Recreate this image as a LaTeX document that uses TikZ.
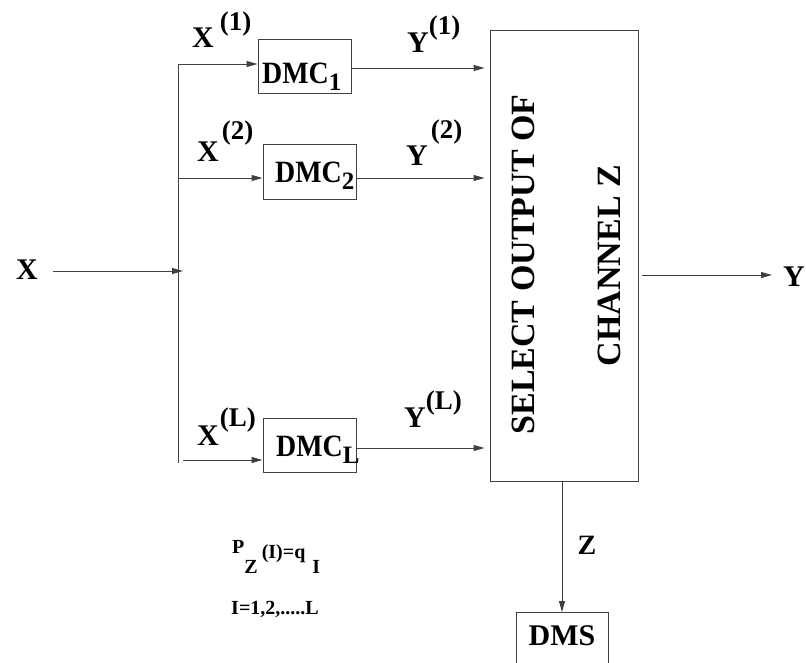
\documentclass[tikz,border=0pt]{standalone}
\usepackage{fontspec}
\setmainfont{Liberation Serif}
\usetikzlibrary{arrows.meta}
\newcommand{\mysup}[3]{\hspace{#1}\raisebox{#2}{\fontsize{27}{27}\selectfont #3}}
\newcommand{\dmcsub}[1]{\scalebox{0.9}[1]{DMC}\raisebox{-7pt}{\fontsize{25}{25}\selectfont #1}}
\begin{document}
\begin{tikzpicture}[x=1pt,y=-1pt,
  line/.style={draw=black!75, line width=1pt},
  arr/.style={line, -{Triangle[length=11pt,width=6pt]}},
  box/.style={draw=black!75, line width=1pt, inner sep=0pt},
  lbl/.style={font=\fontsize{30}{30}\bfseries\selectfont, inner sep=0pt},
  dmct/.style={font=\fontsize{31}{31}\bfseries\selectfont, inner sep=0pt, anchor=base west},
  big/.style={font=\fontsize{34}{34}\bfseries\selectfont, inner sep=0pt, rotate=90},
  small/.style={font=\fontsize{20}{20}\bfseries\selectfont, inner sep=0pt}
]
\useasboundingbox (0,0) rectangle (806,662);
\clip (0,0) rectangle (806,662);

% selector box
\node[box, minimum width=148pt, minimum height=451pt] (sel) at (564,255.5) {};
\node[big] (t1) at (523.5,264.5) {SELECT OUTPUT OF};
\node[big] (t2) at (609.5,265.5) {CHANNEL Z};

% DMC boxes
\node[box, minimum width=93pt, minimum height=54pt] (d1) at (304.5,66) {};
\node[box, minimum width=93pt, minimum height=55pt] (d2) at (309.5,171.5) {};
\node[box, minimum width=93pt, minimum height=54pt] (dL) at (309.5,445) {};
\node[dmct] (d1t) at (262,83) {\dmcsub{1}};
\node[dmct] (d2t) at (275,182) {\dmcsub{2}};
\node[dmct] (dLt) at (276,456) {\dmcsub{L}};

% DMS box (open at the bottom edge of the picture)
\node[box, anchor=north, minimum width=92pt, text height=33pt, text depth=50pt,
      font=\fontsize{30}{30}\bfseries\selectfont] (dms) at (562,612) {DMS};

% input
\node[lbl] (x) at (27,270) {X};
\coordinate (j) at (183,271);
\coordinate (vt) at (178.5,64);
\coordinate (vb) at (178.5,463);
\coordinate (b2) at (178.5,178);
\coordinate (bL) at (183,460);
\draw[arr] ([xshift=15pt]x.east |- j) -- (j);
\draw[line] (vt) -- (vb);
\draw[arr] (vt) -- (vt -| d1.west);
\draw[arr] (b2) -- (b2 -| d2.west);
\draw[arr] (bL) -- (bL -| dL.west);

% outputs to selector
\draw[arr, shorten >=5pt] ([yshift=-2pt]d1.east) -- ([yshift=-2pt]d1.east -| sel.west);
\draw[arr, shorten >=5pt] ([yshift=-6.5pt]d2.east) -- ([yshift=-6.5pt]d2.east -| sel.west);
\draw[arr, shorten >=5pt] ([yshift=-3pt]dL.east) -- ([yshift=-3pt]dL.east -| sel.west);

% labels
\node[lbl, anchor=base west] (x1) at (192,47) {X\mysup{6pt}{17pt}{(1)}};
\node[lbl, anchor=base west] (x2) at (197,161) {X\mysup{3pt}{22pt}{(2)}};
\node[lbl, anchor=base west] (xL) at (197,445) {X\mysup{1pt}{19pt}{(L)}};
\node[lbl, anchor=base west] (y1) at (407,52) {Y\mysup{0pt}{18pt}{(1)}};
\node[lbl, anchor=base west] (y2) at (406,165) {Y\mysup{3pt}{27pt}{(2)}};
\node[lbl, anchor=base west] (yL) at (404,427) {Y\mysup{0pt}{18pt}{(L)}};

% output
\node[lbl, anchor=west] (y) at (783,277) {Y};
\coordinate (yo) at (642,275);
\draw[arr] (yo) -- (yo -| 772,0);

% Z to DMS
\draw[arr] (sel.south -| dms.north) -- (dms.north);
\node[lbl, font=\fontsize{28}{28}\bfseries\selectfont] (z) at (587,545) {Z};

% formula
\node[small, anchor=base west] (pz) at (232,573)
  {\raisebox{20pt}{P}Z\hspace{4pt}\raisebox{15pt}{(I)=q}\hspace{7pt}I};
\node[small] (il) at (275,609) {I=1,2,.....L};
\end{tikzpicture}
\end{document}
